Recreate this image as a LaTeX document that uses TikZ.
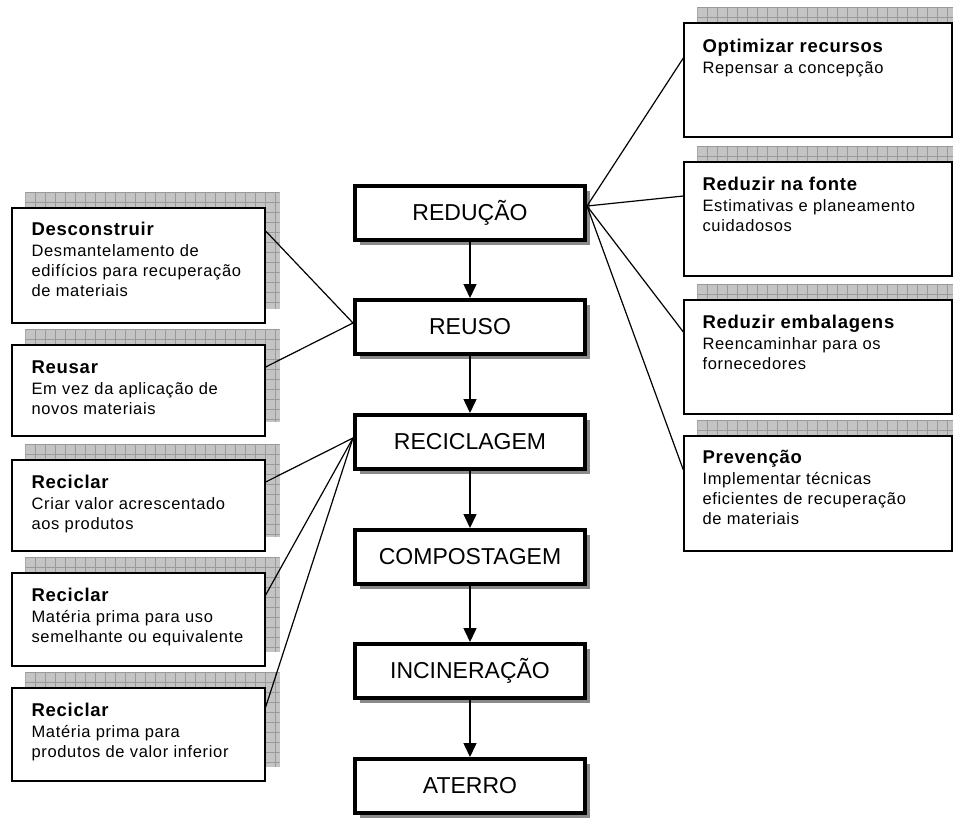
\documentclass[tikz,border=0pt]{standalone}
\usepackage{fontspec}
\setmainfont{Liberation Sans}
\newfontfamily\sidebody[LetterSpace=4]{Liberation Sans}
\newfontfamily\sidetitle[LetterSpace=4]{Liberation Sans}
\usetikzlibrary{arrows.meta,backgrounds,shadows}
\definecolor{gridfill}{HTML}{C4C4C4}
\definecolor{gridline}{HTML}{9A9A9A}
\definecolor{cshadow}{HTML}{8A8A8A}
\newcommand\mksidetext[2]{\parbox[t]{250pt}{\raggedright\parskip=0pt
  \sidetitle\fontsize{18.5}{22}\selectfont\bfseries #1\par\vspace{1.5pt}
  \sidebody\fontsize{16.5}{20}\selectfont\mdseries #2\par}}
\begin{document}
\begin{tikzpicture}[x=1pt,y=-1pt,
  cbox/.style={draw, line width=4pt, fill=white, minimum width=230pt, minimum height=54pt,
    inner sep=0pt, font=\fontsize{23}{27}\selectfont,
    general shadow={fill=cshadow, shadow xshift=5pt, shadow yshift=-5pt}},
  sbox/.style={draw, line width=1.3pt, fill=white, inner sep=0pt},
  lbox/.style={sbox, minimum width=253pt},
  rbox/.style={sbox, minimum width=268pt},
  stxt/.style={anchor=base west, inner sep=0pt},
  arr/.style={line width=1.5pt, -{Triangle[width=13pt,length=14pt]}},
  link/.style={line width=1.2pt},
  gline/.style={draw=gridline, line width=0.6pt}
]
\useasboundingbox (0,0) rectangle (953,820);

% central chain
\node[cbox] (c1) at (470,213) {REDUÇÃO};
\node[cbox] (c2) at (470,327) {REUSO};
\node[cbox] (c3) at (470,442) {RECICLAGEM};
\node[cbox] (c4) at (470,557) {COMPOSTAGEM};
\node[cbox] (c5) at (470,671) {INCINERAÇÃO};
\node[cbox] (c6) at (470,786) {ATERRO};

\draw[arr] (c1) -- (c2);
\draw[arr] (c2) -- (c3);
\draw[arr] (c3) -- (c4);
\draw[arr] (c4) -- (c5);
\draw[arr] (c5) -- (c6);

% left boxes
\node[lbox, minimum height=115pt] (l1) at (138.5,265.5) {};
\node[lbox, minimum height=91pt]  (l2) at (138.5,390.5) {};
\node[lbox, minimum height=91pt]  (l3) at (138.5,505.5) {};
\node[lbox, minimum height=93pt]  (l4) at (138.5,619.5) {};
\node[lbox, minimum height=93pt]  (l5) at (138.5,734.5) {};

\node[stxt] (l1t) at ([shift={(20,28)}]l1.north west) {\mksidetext{Desconstruir}{Desmantelamento de\\edifícios para recuperação\\de materiais}};
\node[stxt] (l2t) at ([shift={(20,29)}]l2.north west) {\mksidetext{Reusar}{Em vez da aplicação de\\novos materiais}};
\node[stxt] (l3t) at ([shift={(20,29)}]l3.north west) {\mksidetext{Reciclar}{Criar valor acrescentado\\aos produtos}};
\node[stxt] (l4t) at ([shift={(20,29)}]l4.north west) {\mksidetext{Reciclar}{Matéria prima para uso\\semelhante ou equivalente}};
\node[stxt] (l5t) at ([shift={(20,29)}]l5.north west) {\mksidetext{Reciclar}{Matéria prima para\\produtos de valor inferior}};

% right boxes
\node[rbox, minimum height=114pt] (r1) at (818,80) {};
\node[rbox, minimum height=114pt] (r2) at (818,219) {};
\node[rbox, minimum height=114pt] (r3) at (818,357) {};
\node[rbox, minimum height=115pt] (r4) at (818,493.5) {};

\node[stxt] (r1t) at ([shift={(19,30)}]r1.north west) {\mksidetext{Optimizar recursos}{Repensar a concepção}};
\node[stxt] (r2t) at ([shift={(19,29)}]r2.north west) {\mksidetext{Reduzir na fonte}{Estimativas e planeamento\\cuidadosos}};
\node[stxt] (r3t) at ([shift={(19,29)}]r3.north west) {\mksidetext{Reduzir embalagens}{Reencaminhar para os\\fornecedores}};
\node[stxt] (r4t) at ([shift={(19,28)}]r4.north west) {\mksidetext{Prevenção}{Implementar técnicas\\eficientes de recuperação\\de materiais}};

% white page and grid shadows behind side boxes
\begin{scope}[on background layer]
\fill[white] (0,0) rectangle (953,820);
\foreach \b in {l1,l2,l3,l4,l5,r1,r2,r3,r4}{
  \path[fill=gridfill] ([shift={(14,-15)}]\b.north west) rectangle ([shift={(14,-15)}]\b.south east);
  \begin{scope}
    \clip ([shift={(14,-15)}]\b.north west) rectangle ([shift={(14,-15)}]\b.south east);
    \foreach \i in {0,...,28} \draw[gline] ([shift={(14+10*\i,-15)}]\b.north west) -- ++(0,130);
    \foreach \j in {0,...,12} \draw[gline] ([shift={(14,-15+10*\j)}]\b.north west) -- ++(290,0);
  \end{scope}
}
\end{scope}

% connectors
\coordinate (hubr) at ([yshift=7pt]c1.east);
\coordinate (hubu) at ([yshift=4pt]c2.west);
\coordinate (hubc) at ([yshift=4pt]c3.west);

\draw[link] (hubr) -- ([yshift=22pt]r1.west);
\draw[link] (hubr) -- ([yshift=23pt]r2.west);
\draw[link] (hubr) -- ([yshift=25pt]r3.west);
\draw[link] (hubr) -- ([yshift=23.5pt]r4.west);

\draw[link] ([yshift=34.5pt]l1.east) -- (hubu);
\draw[link] ([yshift=23.5pt]l2.east) -- (hubu);
\draw[link] ([yshift=23.5pt]l3.east) -- (hubc);
\draw[link] ([yshift=24.5pt]l4.east) -- (hubc);
\draw[link] ([yshift=27.5pt]l5.east) -- (hubc);
\end{tikzpicture}
\end{document}
